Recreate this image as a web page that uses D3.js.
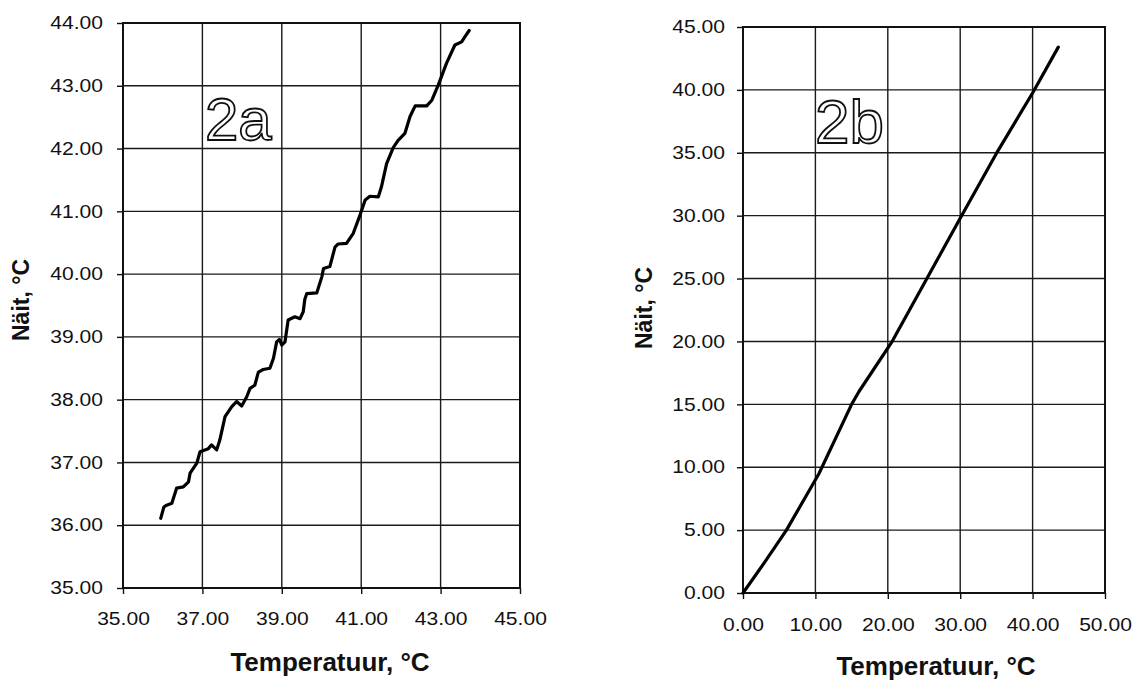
<!DOCTYPE html>
<html>
<head>
<meta charset="utf-8">
<script src="https://cdn.jsdelivr.net/npm/d3@7"></script>
<style>
  body { margin: 0; background: #fff; }
  svg { display: block; }
</style>
</head>
<body>
<script>
// chart 2a - staircase reading
var tempA = [35.95, 36.03, 36.10, 36.23, 36.35, 36.52, 36.65, 36.69, 36.86, 36.94, 37.15, 37.23, 37.36, 37.44,
             37.57, 37.74, 37.86, 37.99, 38.12, 38.20, 38.32, 38.41, 38.53, 38.70, 38.79, 38.87, 38.94, 39.00,
             39.08, 39.16, 39.33, 39.46, 39.54, 39.58, 39.63, 39.88, 40.01, 40.05, 40.21, 40.34, 40.42, 40.63,
             40.80, 40.97, 41.10, 41.22, 41.43, 41.51, 41.64, 41.81, 41.93, 42.10, 42.23, 42.36, 42.65, 42.78,
             42.94, 43.15, 43.36, 43.53, 43.61, 43.72];
var naitA = [36.11, 36.29, 36.32, 36.35, 36.59, 36.61, 36.69, 36.83, 36.99, 37.17, 37.22, 37.28, 37.20, 37.36,
             37.73, 37.89, 37.97, 37.90, 38.05, 38.18, 38.23, 38.44, 38.48, 38.50, 38.66, 38.92, 38.96, 38.87,
             38.92, 39.27, 39.32, 39.29, 39.40, 39.60, 39.69, 39.70, 39.96, 40.09, 40.12, 40.43, 40.48, 40.49,
             40.65, 40.94, 41.18, 41.24, 41.23, 41.39, 41.76, 42.02, 42.13, 42.24, 42.51, 42.68, 42.68, 42.77,
             43.01, 43.36, 43.65, 43.70, 43.78, 43.88];

// chart 2b - full range
var tempB = [0, 3.0, 6.0, 10.5, 15.0, 16.0, 20.5, 25.4, 30.0, 35.0, 40.1, 43.55];
var naitB = [0, 2.45, 5.0, 9.5, 15.0, 16.0, 19.9, 25.0, 29.8, 34.95, 39.85, 43.4];

var xTicksA = [35, 37, 39, 41, 43, 45];
var yTicksA = [35, 36, 37, 38, 39, 40, 41, 42, 43, 44];
var xTicksB = [0, 10, 20, 30, 40, 50];
var yTicksB = [0, 5, 10, 15, 20, 25, 30, 35, 40, 45];

var xTitle = 'Temperatuur, °C';
var yTitle = 'Näit, °C';

var svg = d3.select('body').append('svg')
    .attr('width', 1136)
    .attr('height', 682);

svg.append('rect').attr('width', 1136).attr('height', 682).attr('fill', '#fff');

var fmt = d3.format('.2f');

// widen text a bit, the scan is stretched sideways
function stretch(sel, k) {
    sel.each(function() {
        var w = this.getComputedTextLength();
        d3.select(this)
            .attr('textLength', w * k)
            .attr('lengthAdjust', 'spacingAndGlyphs');
    });
}

function drawPanel(p) {
    var x = d3.scaleLinear().domain(p.xDomain).range([p.left, p.right]);
    var y = d3.scaleLinear().domain(p.yDomain).range([p.bottom, p.top]);

    var g = svg.append('g');

    // grid
    g.selectAll('.vgrid').data(p.xTicks).enter()
        .append('line')
        .attr('x1', d => x(d)).attr('x2', d => x(d))
        .attr('y1', p.top).attr('y2', p.bottom)
        .attr('stroke', '#1a1a1a').attr('stroke-width', 1.4);

    g.selectAll('.hgrid').data(p.yTicks).enter()
        .append('line')
        .attr('x1', p.left).attr('x2', p.right)
        .attr('y1', d => y(d)).attr('y2', d => y(d))
        .attr('stroke', '#1a1a1a').attr('stroke-width', 1.4);

    // axes
    var xAxis = g.append('g')
        .attr('transform', 'translate(0,' + p.bottom + ')')
        .call(d3.axisBottom(x).tickValues(p.xTicks).tickFormat(fmt)
            .tickSize(6).tickSizeOuter(0).tickPadding(p.xPad));
    var yAxis = g.append('g')
        .attr('transform', 'translate(' + p.left + ',0)')
        .call(d3.axisLeft(y).tickValues(p.yTicks).tickFormat(fmt)
            .tickSize(6).tickSizeOuter(0).tickPadding(p.yPad));

    [xAxis, yAxis].forEach(a => {
        a.select('.domain').remove();
        a.selectAll('line').attr('stroke', '#111').attr('stroke-width', 1.4);
        a.selectAll('text')
            .attr('fill', '#111')
            .style('font-family', '"Liberation Sans", Arial, sans-serif')
            .style('font-size', '18px');
    });
    stretch(xAxis.selectAll('text'), 1.17);
    stretch(yAxis.selectAll('text'), 1.17);

    // frame
    g.append('rect')
        .attr('x', p.left).attr('y', p.top)
        .attr('width', p.right - p.left).attr('height', p.bottom - p.top)
        .attr('fill', 'none')
        .attr('stroke', '#111').attr('stroke-width', 2);

    // series
    var pts = p.xs.map((v, i) => [v, p.ys[i]]);
    var line = d3.line().x(d => x(d[0])).y(d => y(d[1]));
    g.append('path')
        .datum(pts)
        .attr('d', line)
        .attr('fill', 'none')
        .attr('stroke', '#000')
        .attr('stroke-width', 3.2)
        .attr('stroke-linejoin', 'round')
        .attr('stroke-linecap', 'round');

    // panel tag (outlined)
    g.append('text')
        .attr('x', p.tagX).attr('y', p.tagY)
        .style('font-family', '"Liberation Sans", Arial, sans-serif')
        .style('font-size', p.tagSize + 'px')
        .attr('fill', '#fff')
        .attr('stroke', '#111')
        .attr('stroke-width', 1.8)
        .text(p.tag);

    // axis titles
    g.append('text')
        .attr('x', p.xTitleX).attr('y', p.xTitleY)
        .attr('text-anchor', 'middle')
        .style('font-family', '"Liberation Sans", Arial, sans-serif')
        .style('font-weight', 'bold')
        .style('font-size', '26px')
        .attr('fill', '#111')
        .text(xTitle);

    g.append('text')
        .attr('transform', 'translate(' + p.yTitleX + ',' + p.yTitleY + ') rotate(-90)')
        .attr('text-anchor', 'middle')
        .style('font-family', '"Liberation Sans", Arial, sans-serif')
        .style('font-weight', 'bold')
        .style('font-size', '23px')
        .attr('fill', '#111')
        .text(yTitle);
}

drawPanel({
    left: 123, right: 520, top: 23, bottom: 588,
    xDomain: [35, 45], yDomain: [35, 44],
    xTicks: xTicksA, yTicks: yTicksA,
    xs: tempA, ys: naitA,
    xPad: 18, yPad: 14,
    tag: '2a', tagX: 205, tagY: 140, tagSize: 60,
    xTitleX: 330, xTitleY: 671,
    yTitleX: 29, yTitleY: 300
});

drawPanel({
    left: 743, right: 1105, top: 27, bottom: 593,
    xDomain: [0, 50], yDomain: [0, 45],
    xTicks: xTicksB, yTicks: yTicksB,
    xs: tempB, ys: naitB,
    xPad: 19, yPad: 12,
    tag: '2b', tagX: 815, tagY: 143, tagSize: 62,
    xTitleX: 936, xTitleY: 675,
    yTitleX: 652, yTitleY: 308
});
</script>
</body>
</html>
